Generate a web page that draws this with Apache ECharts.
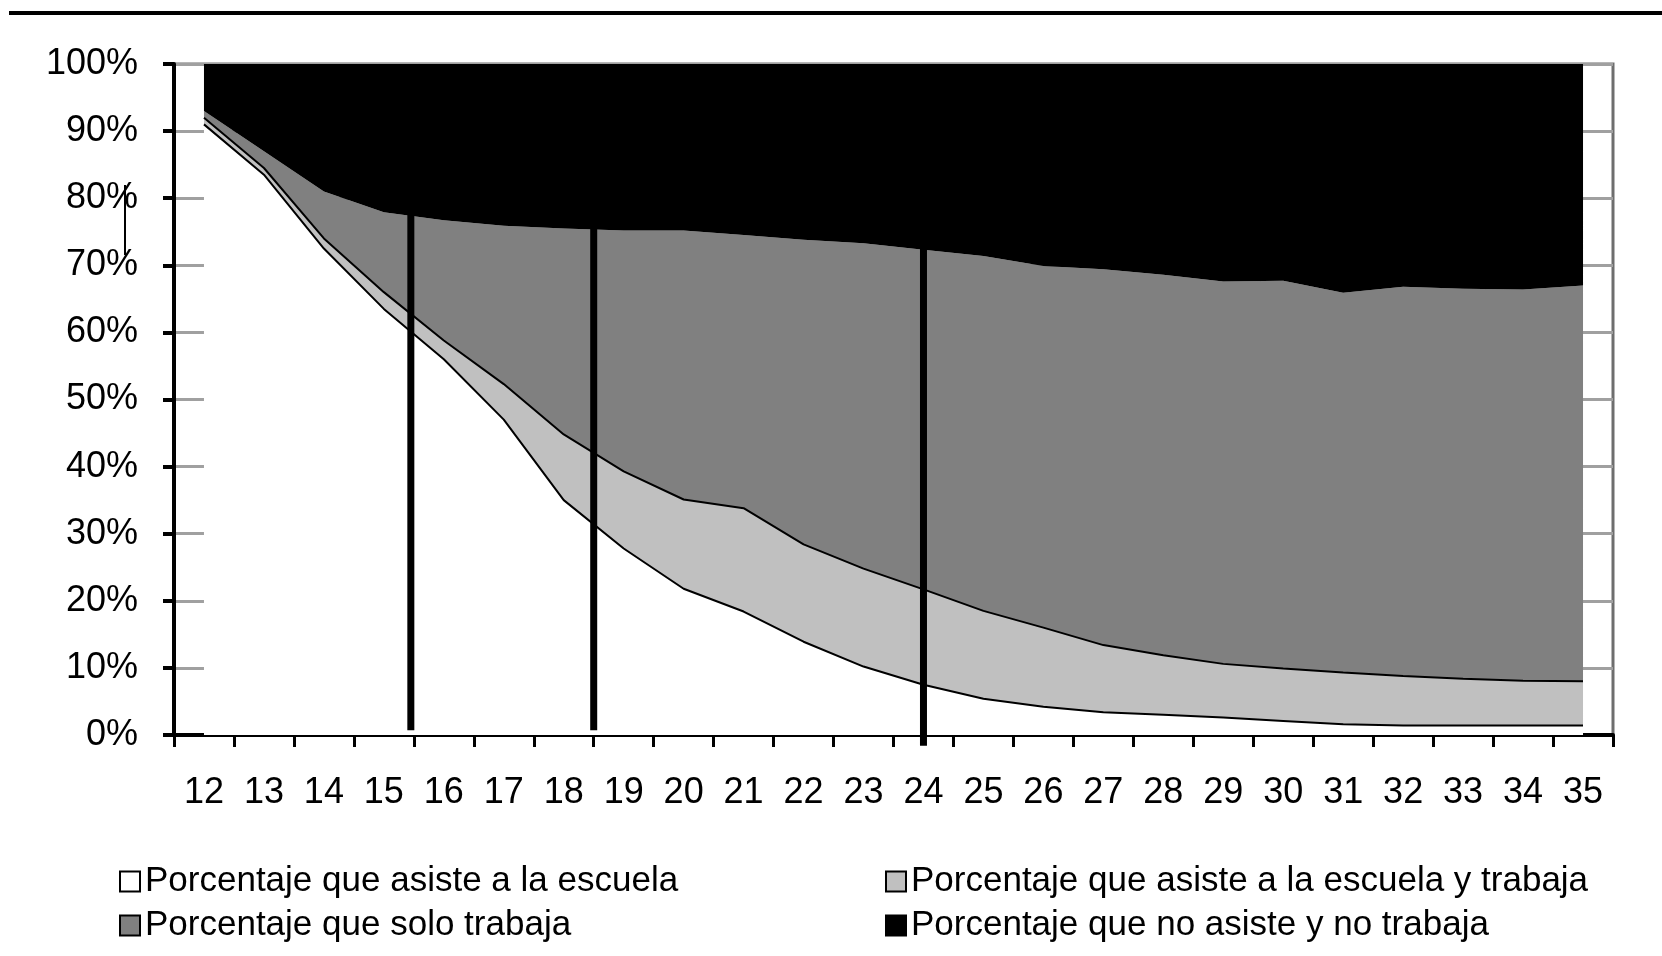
<!DOCTYPE html>
<html>
<head>
<meta charset="utf-8">
<title>Asistencia escolar y trabajo por edad</title>
<style>
  html, body { margin: 0; padding: 0; background: #fff; }
  #main { width: 1662px; height: 956px; }
</style>
<script src="https://cdn.jsdelivr.net/npm/echarts@6/dist/echarts.min.js"></script>
</head>
<body>
<div id="main"></div>
<script>
// edades 12..35
var ages = ['12', '13', '14', '15', '16', '17', '18', '19', '20', '21', '22', '23',
            '24', '25', '26', '27', '28', '29', '30', '31', '32', '33', '34', '35'];
// porcentajes, se apilan hasta 100%
var soloEscuela = [91.0, 83.5, 72.5, 63.5, 56.0, 47.0, 35.0, 27.8, 21.8, 18.4, 13.9, 10.2,
                   7.5, 5.4, 4.2, 3.4, 3.0, 2.6, 2.1, 1.6, 1.4, 1.4, 1.4, 1.4];
var escuelaTrabajo = [1.0, 1.0, 1.5, 2.5, 2.8, 5.3, 9.8, 11.5, 13.3, 15.4, 14.5, 14.6,
                      14.2, 13.1, 11.8, 10.0, 8.9, 8.0, 7.8, 7.7, 7.4, 7.0, 6.7, 6.6];
var soloTrabajo = [1.0, 2.5, 7.0, 11.9, 17.9, 23.6, 30.7, 35.9, 40.1, 40.7, 45.4, 48.5,
                   50.6, 52.9, 53.9, 56.0, 56.7, 57.0, 57.8, 56.6, 58.0, 58.1, 58.3, 59.0];
var niNi = [7.0, 13.0, 19.0, 22.1, 23.3, 24.1, 24.5, 24.8, 24.8, 25.5, 26.2, 26.7,
            27.7, 28.6, 30.1, 30.6, 31.4, 32.4, 32.3, 34.1, 33.2, 33.5, 33.6, 33.0];
// líneas verticales de corte: [edad, desde %, hasta %]
var cortes = [[15.45, 0.7, 100], [18.5, 0.7, 100], [24, -1.6, 100]];

var nombres = [
  'Porcentaje que asiste a la escuela',
  'Porcentaje que asiste a la escuela y trabaja',
  'Porcentaje que solo trabaja',
  'Porcentaje que no asiste y no trabaja'
];
var colores = ['#ffffff', '#c0c0c0', '#808080', '#000000'];
var valores = [soloEscuela, escuelaTrabajo, soloTrabajo, niNi];

var fuente = "'Liberation Sans', Arial, sans-serif";

var series = valores.map(function (d, i) {
  return {
    name: nombres[i],
    type: 'line',
    stack: 'total',
    data: d,
    symbol: 'none',
    showSymbol: false,
    lineStyle: { color: '#000', width: i < 2 ? 2 : 0 },
    itemStyle: { color: colores[i] },
    areaStyle: { color: colores[i], opacity: 1 },
    z: 2
  };
});

cortes.forEach(function (c) {
  series.push({
    type: 'line',
    xAxisIndex: 1,
    data: [[c[0], c[1]], [c[0], c[2]]],
    symbol: 'none',
    clip: false,
    silent: true,
    lineStyle: { color: '#000', width: 7 },
    z: 5
  });
});

var chart = echarts.init(document.getElementById('main'));
chart.setOption({
  animation: false,
  backgroundColor: '#fff',
  textStyle: { fontFamily: fuente },
  grid: {
    left: 174, right: 49, top: 64, bottom: 221,
    show: true, borderColor: '#6e6e6e', borderWidth: 3
  },
  legend: [{
    data: [nombres[0], nombres[2]],
    orient: 'vertical',
    left: 114, top: 859,
    itemGap: 9,
    icon: 'rect', itemWidth: 20, itemHeight: 20,
    itemStyle: { borderColor: '#000', borderWidth: 2 },
    textStyle: { color: '#000', fontSize: 35, fontFamily: fuente }
  }, {
    data: [nombres[1], nombres[3]],
    orient: 'vertical',
    left: 880, top: 859,
    itemGap: 9,
    icon: 'rect', itemWidth: 20, itemHeight: 20,
    itemStyle: { borderColor: '#000', borderWidth: 2 },
    textStyle: { color: '#000', fontSize: 35, fontFamily: fuente }
  }],
  xAxis: [{
    type: 'category',
    data: ages,
    boundaryGap: true,
    axisLine: { lineStyle: { color: '#000', width: 4 } },
    axisTick: { show: true, interval: 0, length: 12, lineStyle: { color: '#000', width: 3 } },
    axisLabel: { interval: 0, margin: 40, color: '#000', fontSize: 36, fontFamily: fuente },
    splitLine: { show: false }
  }, {
    type: 'value',
    min: 11.5, max: 35.5,
    show: false
  }],
  yAxis: {
    type: 'value',
    min: 0, max: 100, interval: 10,
    axisLine: { show: true, lineStyle: { color: '#000', width: 4 } },
    axisTick: { show: true, length: 11, lineStyle: { color: '#000', width: 4 } },
    axisLabel: { formatter: '{value}%', margin: 36, color: '#000', fontSize: 36, fontFamily: fuente },
    splitLine: { show: true, lineStyle: { color: '#a0a0a0', width: 3 } }
  },
  graphic: [
    { type: 'rect', left: 9, top: 11, shape: { width: 1653, height: 4 }, style: { fill: '#000' } },
    { type: 'rect', left: 124, top: 185, shape: { width: 2, height: 70 }, style: { fill: '#000' } }
  ],
  series: series
});
</script>
</body>
</html>
